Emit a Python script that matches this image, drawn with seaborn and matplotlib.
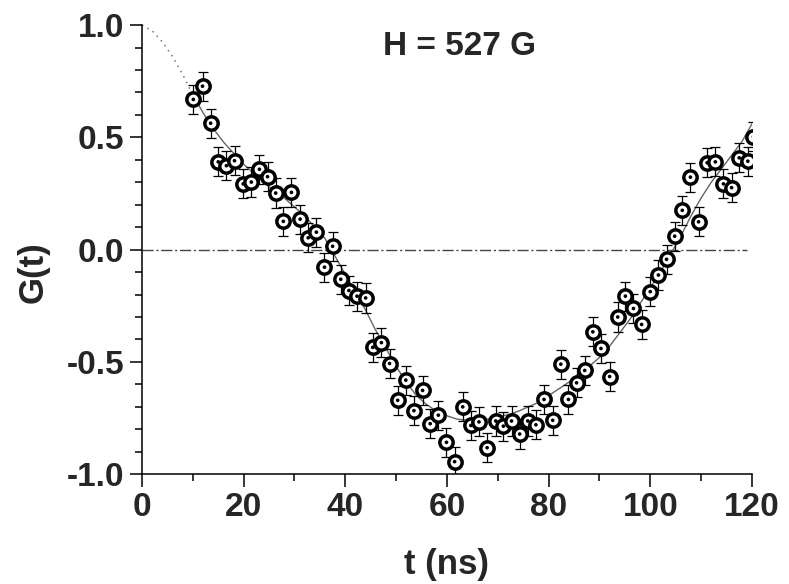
import numpy as np
import pandas as pd
import matplotlib
matplotlib.use("Agg")
import matplotlib.pyplot as plt
from matplotlib.ticker import MultipleLocator
import seaborn as sns

# ---- data ----
t_ns = [10.1, 11.9, 13.5, 15.0, 16.6, 18.2, 19.9, 21.5, 23.1, 24.7,
        26.3, 27.8, 29.4, 31.1, 32.7, 34.3, 35.9, 37.5, 39.1, 40.7,
        42.3, 44.0, 45.4, 47.1, 48.7, 50.3, 51.9, 53.5, 55.2, 56.7,
        58.3, 59.9, 61.5, 63.1, 64.7, 66.3, 67.9, 69.6, 71.1, 72.7,
        74.3, 75.9, 77.5, 79.1, 80.8, 82.4, 83.9, 85.5, 87.1, 88.7,
        90.3, 92.0, 93.6, 95.1, 96.7, 98.3, 100.0, 101.6, 103.2, 104.8,
        106.3, 107.9, 109.5, 111.2, 112.8, 114.4, 116.0, 117.5, 119.2, 120.3]
g_val = [0.669, 0.728, 0.563, 0.391, 0.374, 0.396, 0.293, 0.301, 0.358, 0.325,
         0.252, 0.126, 0.255, 0.136, 0.053, 0.078, -0.078, 0.015, -0.132, -0.182,
         -0.207, -0.215, -0.435, -0.414, -0.507, -0.671, -0.581, -0.717, -0.627, -0.775,
         -0.737, -0.858, -0.944, -0.700, -0.783, -0.767, -0.882, -0.763, -0.786, -0.763,
         -0.821, -0.763, -0.780, -0.667, -0.760, -0.510, -0.667, -0.593, -0.538, -0.366,
         -0.440, -0.565, -0.300, -0.207, -0.262, -0.333, -0.187, -0.113, -0.043, 0.060,
         0.175, 0.323, 0.124, 0.387, 0.391, 0.293, 0.276, 0.409, 0.394, 0.503]
g_err = 0.065

# fitted curve
fit_t_dotted = [0, 2, 4, 6, 8, 10]
fit_g_dotted = [1.0, 0.975, 0.925, 0.86, 0.78, 0.69]
fit_t = [10, 12, 14, 16, 18, 20, 22, 24, 26, 28, 30, 32, 34, 36, 38, 40, 42, 44,
         46, 48, 50, 52, 54, 56, 58, 60, 62, 64, 66, 68, 70, 72, 74, 76, 78, 80,
         82, 84, 86, 88, 90, 92, 94, 96, 98, 100, 102, 104, 106, 108, 110, 112,
         114, 116, 118, 120]
fit_g = [0.69, 0.61, 0.54, 0.48, 0.43, 0.38, 0.34, 0.30, 0.26, 0.23, 0.19, 0.15,
         0.10, 0.05, -0.03, -0.11, -0.19, -0.27, -0.36, -0.44, -0.52, -0.59, -0.65,
         -0.69, -0.72, -0.74, -0.755, -0.76, -0.76, -0.755, -0.745, -0.735, -0.72,
         -0.70, -0.68, -0.65, -0.62, -0.59, -0.55, -0.52, -0.48, -0.43, -0.37, -0.31,
         -0.24, -0.17, -0.10, -0.02, 0.06, 0.15, 0.23, 0.30, 0.36, 0.42, 0.48, 0.56]

title_text = "H = 527 G"
x_label = "t (ns)"
y_label = "G(t)"

df = pd.DataFrame({"t": t_ns, "g": g_val})
fit_df = pd.DataFrame({"t": fit_t, "g": fit_g})
fit_dot_df = pd.DataFrame({"t": fit_t_dotted, "g": fit_g_dotted})

# ---- style ----
sns.set_theme(style="ticks")
plt.rcParams["font.family"] = ["Liberation Sans", "DejaVu Sans"]
plt.rcParams["font.weight"] = "bold"
plt.rcParams["axes.unicode_minus"] = False

fig = plt.figure(figsize=(7.89, 5.84), dpi=100)
ax = fig.add_axes([0.180, 0.188, 0.773, 0.769])

# zero reference line
ax.hlines(0, 0, 119, colors="#444444", linestyles=(0, (8, 2, 1.5, 2)), linewidth=1.0, zorder=1)

# fit curve
sns.lineplot(data=fit_dot_df, x="t", y="g", ax=ax, color="#777777",
             linestyle=(0, (1, 3)), linewidth=1.1, zorder=2, clip_on=False)
sns.lineplot(data=fit_df, x="t", y="g", ax=ax, color="#666666",
             linewidth=1.0, zorder=2)

# error bars
ax.errorbar(df["t"], df["g"], yerr=g_err, fmt="none", ecolor="black",
            elinewidth=0.9, capsize=3.8, capthick=0.9, zorder=3)

# markers: thick black ring with white face and small center dot
sns.scatterplot(data=df, x="t", y="g", ax=ax, marker="o", s=92,
                facecolor="white", edgecolor="black", linewidth=2.5, zorder=4)
sns.scatterplot(data=df, x="t", y="g", ax=ax, marker="o", s=7,
                color="black", edgecolor="none", zorder=5)

ax.set_xlim(0, 120)
ax.set_ylim(-1.0, 1.0)
ax.xaxis.set_major_locator(MultipleLocator(20))
ax.xaxis.set_minor_locator(MultipleLocator(10))
ax.yaxis.set_major_locator(MultipleLocator(0.5))
ax.yaxis.set_minor_locator(MultipleLocator(0.1))
ax.yaxis.set_major_formatter(matplotlib.ticker.FormatStrFormatter("%.1f"))

ax.tick_params(which="major", direction="out", length=9, width=1.1,
               labelsize=24, pad=4, color="black")
ax.tick_params(which="minor", direction="out", length=5, width=1.1, color="black")
for lab in ax.get_xticklabels() + ax.get_yticklabels():
    lab.set_fontweight("bold")

sns.despine(ax=ax)
for sp in ("left", "bottom"):
    ax.spines[sp].set_linewidth(1.1)
    ax.spines[sp].set_color("black")

ax.set_xlabel(x_label, fontsize=25, fontweight="bold", labelpad=18)
ax.set_ylabel(y_label, fontsize=25, fontweight="bold")
ax.yaxis.set_label_coords(-0.152, 0.45)
ax.text(0.52, 0.952, title_text, transform=ax.transAxes, ha="center", va="center",
        fontsize=24, fontweight="bold")

fig.savefig("out.png", dpi=100)
